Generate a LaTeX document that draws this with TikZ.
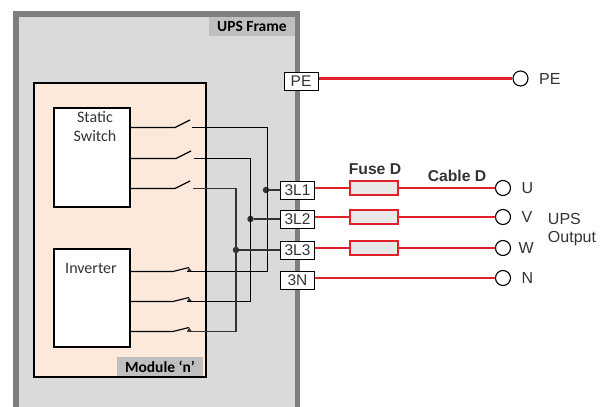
\documentclass[tikz,border=0pt]{standalone}
\usepackage{fontspec}
\setmainfont{Carlito}
\newfontfamily\arialfont{Liberation Sans}
\usepackage{tikz}
\usetikzlibrary{positioning}
\usetikzlibrary{calc}

\definecolor{framefill}{HTML}{D9DBDA}
\definecolor{frameedge}{HTML}{7F7F7F}
\definecolor{modulefill}{HTML}{FCE9DC}
\definecolor{tagfill}{HTML}{BFBFBF}
\definecolor{cablered}{HTML}{E2202C}
\definecolor{fusefill}{HTML}{E8E8E8}
\definecolor{wiredark}{HTML}{333333}
\definecolor{textdark}{HTML}{333333}

\tikzset{
    terminal/.style={draw=black, fill=white, line width=1pt, minimum width=34pt, minimum height=18pt,
        inner sep=0pt, text=textdark, font=\arialfont\fontsize{15.5}{17}\selectfont},
    fuse/.style={draw=cablered, fill=fusefill, line width=2.5pt, minimum width=48pt, minimum height=14pt, inner sep=0pt},
    outlet/.style={circle, draw=black, fill=white, line width=1.1pt, minimum size=15pt, inner sep=0pt},
    block/.style={draw=black, fill=white, line width=1.5pt, minimum width=76pt, inner sep=0pt},
    tag/.style={fill=tagfill, inner sep=0pt, font=\fontsize{15.5}{17}\selectfont\bfseries, text=black},
    blocktext/.style={align=center, text=textdark, font=\fontsize{16}{19}\selectfont},
    outtext/.style={text=textdark, font=\arialfont\fontsize{16}{18}\selectfont},
    cabletext/.style={text=textdark, font=\arialfont\bfseries\fontsize{15.7}{17}\selectfont},
    cable/.style={draw=cablered, line width=2.5pt},
    wire/.style={draw=black, line width=1.2pt},
    bus/.style={draw=wiredark, line width=1.6pt},
    junction/.style={circle, fill=wiredark, minimum size=6.5pt, inner sep=0pt},
    bump/.style={fill=wiredark, draw=none},
}

\begin{document}
\begin{tikzpicture}[x=1pt, y=-1pt]
    \useasboundingbox (0,0) rectangle (606,407);
    % frame
    \fill[framefill] (15,14) rectangle (298,407);
    \draw[frameedge, line width=5.5pt] (15.75,407) -- (15.75,14) -- (297.25,14) -- (297.25,407);
    \node[tag, minimum width=86pt, minimum height=19pt] (frametag) at (252,26.5) {UPS Frame};

    % module
    \node[draw=black, fill=modulefill, line width=2.4pt, minimum width=172pt, minimum height=294pt, inner sep=0pt] (module) at (120,230) {};
    \node[tag, minimum width=86pt, minimum height=19pt] (moduletag) at (160,366.5) {Module ‘n’};

    \node[block, minimum height=99pt] (static) at (92,157.5) {};
    \node[blocktext] (statictext) at (95,127) {Static\\Switch};
    \node[block, minimum height=98pt] (inverter) at (92,298) {};
    \node[blocktext] (invertertext) at (91,268) {Inverter};

    % terminals
    \node[terminal] (tPE) at (301,81.5) {PE};
    \node[terminal] (tL1) at (297.5,190) {3L1};
    \node[terminal] (tL2) at (297.5,219) {3L2};
    \node[terminal] (tL3) at (297.5,250) {3L3};
    \node[terminal] (tN) at (297.5,280.5) {3N};

    % outputs
    \node[outlet] (oPE) at (520.5,78.5) {};
    \node[outlet] (oU) at (503,188) {};
    \node[outlet] (oV) at (503,217) {};
    \node[outlet] (oW) at (503,248) {};
    \node[outlet] (oN) at (503,278) {};

    \node[fuse] (fU) at (374,188) {};
    \node[fuse] (fV) at (374,217) {};
    \node[fuse] (fW) at (374,248) {};

    % red cables
    \draw[cable] (tPE.east |- oPE) -- (oPE);
    \draw[cable] (tL1.east |- fU) -- (fU) (fU) -- (oU);
    \draw[cable] (tL2.east |- fV) -- (fV) (fV) -- (oV);
    \draw[cable] (tL3.east |- fW) -- (fW) (fW) -- (oW);
    \draw[cable] (tN.east |- oN) -- (oN);

    \node[cabletext] (fusetext) at (375,169) {Fuse D};
    \node[cabletext] (cabletext) at (457,175.5) {Cable D};
    \node[outtext, right=7pt of oPE] (lPE) {PE};
    \node[outtext, right=7pt of oU] (lU) {U};
    \node[outtext, right=7pt of oV] (lV) {V};
    \node[outtext, right=4pt of oW] (lW) {W};
    \node[outtext, right=7pt of oN] (lN) {N};
    \node[outtext, align=left] (upsout) at (572,230) {UPS\\Output};

    % static switch contacts
    \coordinate (sa1) at (175,127.5);
    \coordinate (sb1) at (190,120);
    \coordinate (sc1) at (192,127.5);
    \coordinate (sa2) at (176,158.5);
    \coordinate (sb2) at (191,151);
    \coordinate (sc2) at (193.5,158.5);
    \coordinate (sa3) at (175,188.5);
    \coordinate (sb3) at (190,181);
    \coordinate (sc3) at (193,188.5);
    \draw[wire] (static.east |- sa1) -- (sa1) -- (sb1);
    \draw[wire] (static.east |- sa2) -- (sa2) -- (sb2);
    \draw[wire] (static.east |- sa3) -- (sa3) -- (sb3);

    % inverter contacts
    \coordinate (ia1) at (173,271.5);
    \coordinate (ib1) at (189,267.5);
    \coordinate (ia2) at (173,301.5);
    \coordinate (ib2) at (189,297.5);
    \coordinate (ia3) at (173,331.5);
    \coordinate (ib3) at (189,327.5);
    \draw[wire] (inverter.east |- ia1) -- (ia1) -- (ib1);
    \draw[wire] (inverter.east |- ia2) -- (ia2) -- (ib2);
    \draw[wire] (inverter.east |- ia3) -- (ia3) -- (ib3);
    \fill[bump] (ib1) -- ++(3,4) -- ++(-5,0) -- cycle;
    \fill[bump] (ib2) -- ++(3,4) -- ++(-5,0) -- cycle;
    \fill[bump] (ib3) -- ++(3,4) -- ++(-5,0) -- cycle;

    % junctions
    \node[junction] (jU) at (266,190) {};
    \node[junction] (jV) at (250.5,219) {};
    \node[junction] (jW) at (236,250) {};

    % buses
    \draw[wire] (sc1) -- (267.5,127.5) -- (267.5,271.5) -- (187,271.5);
    \draw[wire] (sc2) -- (250.5,158.5) -- (250.5,301.5) -- (187,301.5);
    \draw[bus] (sc3) -- (236,188.5) -- (236,331.5) -- (187,331.5);
    \draw[bus] (jU) -- (tL1);
    \draw[bus] (jV) -- (tL2);
    \draw[bus] (jW) -- (tL3);
\end{tikzpicture}
\end{document}
